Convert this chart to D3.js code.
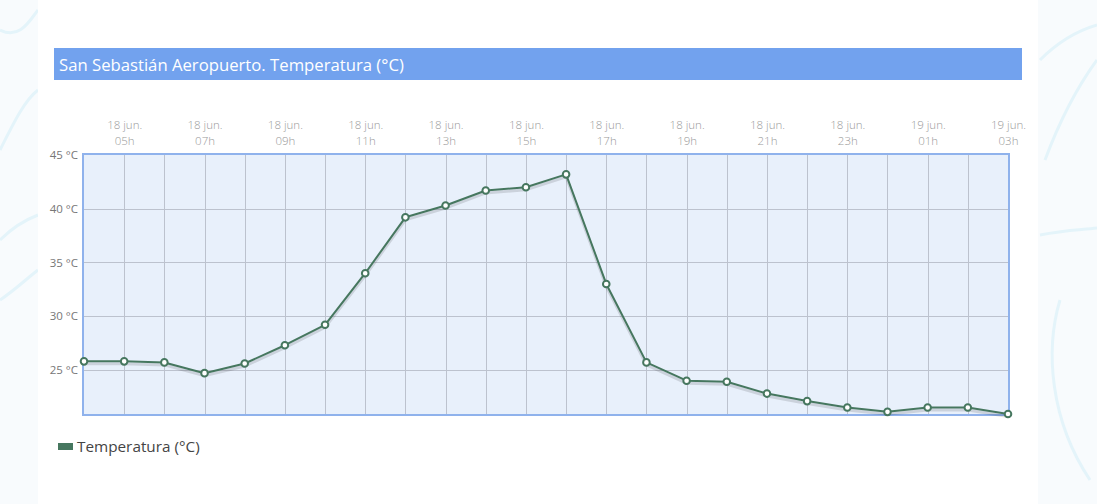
<!DOCTYPE html>
<html>
<head>
<meta charset="utf-8">
<style>
  body { margin: 0; background: #fff; font-family: "Open Sans", sans-serif; }
</style>
</head>
<body>
<svg id="grafico" width="1097" height="504"></svg>
<script src="https://d3js.org/d3.v7.min.js"></script>
<script>
// horas observadas (dia + hora) y temperatura en °C
var horas = [
  "18 jun.|04h", "18 jun.|05h", "18 jun.|06h", "18 jun.|07h", "18 jun.|08h", "18 jun.|09h",
  "18 jun.|10h", "18 jun.|11h", "18 jun.|12h", "18 jun.|13h", "18 jun.|14h", "18 jun.|15h",
  "18 jun.|16h", "18 jun.|17h", "18 jun.|18h", "18 jun.|19h", "18 jun.|20h", "18 jun.|21h",
  "18 jun.|22h", "18 jun.|23h", "19 jun.|00h", "19 jun.|01h", "19 jun.|02h", "19 jun.|03h"
];
var temperaturas = [
  25.8, 25.8, 25.7, 24.7, 25.6, 27.3,
  29.2, 34.0, 39.2, 40.3, 41.7, 42.0,
  43.2, 33.0, 25.7, 24.0, 23.9, 22.8,
  22.1, 21.5, 21.1, 21.5, 21.5, 20.9
];
var etiquetasX = horas.filter(function(d, i) { return i % 2 == 1; });
var ticksY = [25, 30, 35, 40, 45];
var titulo = "San Sebastián Aeropuerto. Temperatura (°C)";
var serie = "Temperatura (°C)";

var svg = d3.select("#grafico");
var verde = "#46775f";

// fondo decorativo a los lados
svg.append("rect").attr("width", 1097).attr("height", 504).attr("fill", "#f8fbfd");
var deco = svg.append("g").attr("fill", "none").attr("stroke", "#e4f4fa").attr("stroke-width", 3);
deco.append("path").attr("d", "M0,30 C20,40 30,20 38,10");
deco.append("path").attr("d", "M0,150 C15,120 25,100 38,90");
deco.append("path").attr("d", "M0,240 C10,230 25,220 38,215");
deco.append("path").attr("d", "M0,300 C15,290 25,280 38,270");
deco.append("path").attr("d", "M1040,60 C1060,40 1080,30 1097,25");
deco.append("path").attr("d", "M1045,160 C1060,120 1075,90 1097,60");
deco.append("path").attr("d", "M1040,235 C1065,230 1080,230 1097,228");
deco.append("path").attr("d", "M1060,300 C1045,350 1050,420 1090,480");
svg.append("rect").attr("x", 38).attr("y", 0).attr("width", 1000).attr("height", 504).attr("fill", "#fff");

// barra de titulo
svg.append("rect").attr("x", 54).attr("y", 48).attr("width", 968).attr("height", 32).attr("fill", "#72a2ee");
svg.append("text").attr("x", 59).attr("y", 71).attr("fill", "#fff")
  .attr("font-size", 16.7).text(titulo);

var x0 = 84, x1 = 1008, y0 = 155, y1 = 414;
var x = d3.scalePoint().domain(horas).range([x0, x1]);
var y = d3.scaleLinear().domain([d3.min(temperaturas), 45]).range([y1, y0]);

svg.append("rect").attr("x", x0).attr("y", y0).attr("width", x1 - x0).attr("height", y1 - y0)
  .attr("fill", "#e8f0fb");

// rejilla
var rejilla = svg.append("g").attr("stroke", "#bcc2ce").attr("stroke-width", 1);
rejilla.selectAll("line.v").data(horas.slice(1, -1)).join("line")
  .attr("x1", function(d) { return Math.round(x(d)) + 0.5; })
  .attr("x2", function(d) { return Math.round(x(d)) + 0.5; })
  .attr("y1", y0).attr("y2", y1);
rejilla.selectAll("line.h").data(ticksY.slice(0, -1)).join("line")
  .attr("y1", function(d) { return Math.round(y(d)) + 0.5; })
  .attr("y2", function(d) { return Math.round(y(d)) + 0.5; })
  .attr("x1", x0).attr("x2", x1);

svg.append("rect").attr("x", x0 - 1).attr("y", y0 - 1).attr("width", x1 - x0 + 2).attr("height", y1 - y0 + 2)
  .attr("fill", "none").attr("stroke", "#8fb2ec").attr("stroke-width", 2);

// eje y
var ejeY = svg.append("g").attr("transform", "translate(" + (x0 - 2) + ",0)")
  .call(d3.axisLeft(y).tickValues(ticksY).tickSize(0).tickPadding(4).tickFormat(function(d) { return d + " °C"; }));
ejeY.select(".domain").remove();
ejeY.selectAll("text").attr("font-family", "Open Sans").attr("font-size", 11.5).attr("fill", "#777");

// eje x (dos lineas)
var ejeX = svg.append("g").attr("transform", "translate(0," + (y0 - 2) + ")")
  .call(d3.axisTop(x).tickValues(etiquetasX).tickSize(0).tickFormat(""));
ejeX.select(".domain").remove();
ejeX.selectAll(".tick").each(function(d) {
  var partes = d.split("|");
  var t = d3.select(this).append("text").attr("text-anchor", "middle")
    .attr("font-family", "Open Sans").attr("font-weight", 300).attr("font-size", 11.5).attr("fill", "#999");
  t.append("tspan").attr("x", 0).attr("y", -24).text(partes[0]);
  t.append("tspan").attr("x", 0).attr("y", -8).text(partes[1]);
});

// linea con sombra
var linea = d3.line().x(function(d, i) { return x(horas[i]); }).y(function(d) { return y(d); });
svg.append("path").datum(temperaturas).attr("d", linea).attr("fill", "none")
  .attr("stroke", "rgba(0,0,0,0.12)").attr("stroke-width", 3).attr("transform", "translate(0,2.5)");
svg.append("path").datum(temperaturas).attr("d", linea).attr("fill", "none")
  .attr("stroke", verde).attr("stroke-width", 2).attr("stroke-linejoin", "round");
svg.selectAll("circle.p").data(temperaturas).join("circle")
  .attr("cx", function(d, i) { return x(horas[i]); })
  .attr("cy", function(d) { return y(d); })
  .attr("r", 3.3).attr("fill", "#fff").attr("stroke", verde).attr("stroke-width", 2);

// leyenda
svg.append("rect").attr("x", 58).attr("y", 443).attr("width", 15).attr("height", 7).attr("fill", verde);
svg.append("text").attr("x", 77).attr("y", 452).attr("font-size", 15.3).attr("fill", "#444").text(serie);
</script>
</body>
</html>
